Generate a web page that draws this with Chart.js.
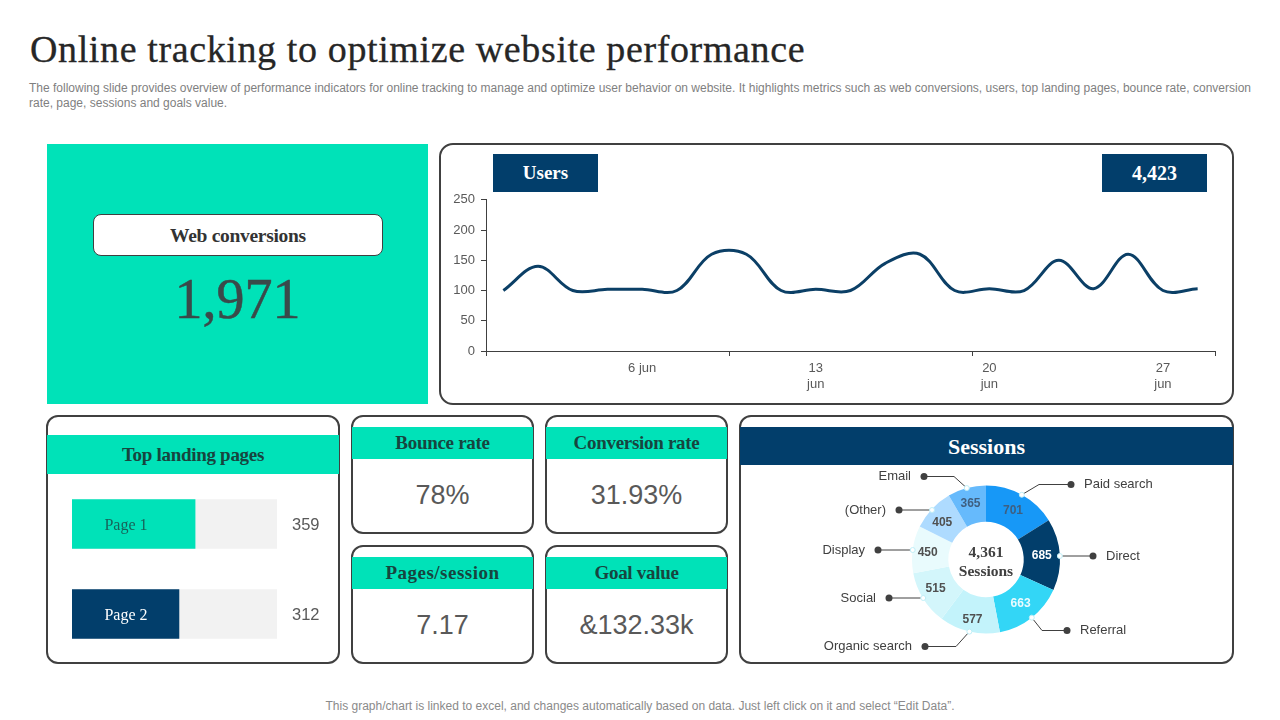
<!DOCTYPE html>
<html lang="en">
<head>
<meta charset="UTF-8">
<title>Online tracking</title>
<script src="https://cdn.jsdelivr.net/npm/chart.js"></script>
<style>
    html, body { margin: 0; padding: 0; background: white; }
    body { width: 1280px; height: 720px; position: relative; overflow: hidden; font-family: "Liberation Sans", Arial, sans-serif; }
    .abs, .box, .band, .num, canvas { position: absolute; }
    .box { border: 2px solid #404040; border-radius: 12px; box-sizing: border-box; background: white; }
    .band { background: #00e2b8; color: #17453f; font: bold 19px/32px "Liberation Serif", serif; letter-spacing: -0.3px; text-align: center; }
    .navy { background: #023e6b; color: white; font: bold 19px/38px "Liberation Serif", serif; text-align: center; }
    .num { color: #595959; font-size: 27px; text-align: center; }
</style>
</head>
<body>

<div class="abs" style="left:30px;top:28px;font:38px/42px 'Liberation Serif',serif;color:#262626;letter-spacing:0.62px;white-space:nowrap;-webkit-text-stroke:0.3px #262626">Online tracking to optimize website performance</div>
<div class="abs" style="left:29px;top:81px;width:1240px;font-size:12px;line-height:14.5px;color:#7f7f7f;white-space:nowrap">The following slide provides overview of performance indicators for online tracking to manage and optimize user behavior on website. It highlights metrics such as web conversions, users, top landing pages, bounce rate, conversion<br>rate, page, sessions and goals value.</div>

<!-- web conversions -->
<div class="abs" style="left:47px;top:144px;width:381px;height:260px;background:#00e2b8"></div>
<div class="abs" style="left:93px;top:214px;width:290px;height:42px;box-sizing:border-box;background:white;border:1px solid #404040;border-radius:8px;font:bold 19.5px/41px 'Liberation Serif',serif;color:#333;text-align:center;letter-spacing:-0.3px">Web conversions</div>
<div class="abs" style="left:47px;top:268px;width:381px;text-align:center;font:56px/62px 'Liberation Serif',serif;color:#3a4a4a;-webkit-text-stroke:0.5px #3a4a4a">1,971</div>

<!-- users -->
<div class="box" style="left:439px;top:143px;width:795px;height:262px;border-radius:14px"></div>
<div class="abs navy" style="left:493px;top:154px;width:105px;height:38px">Users</div>
<div class="abs navy" style="left:1102px;top:154px;width:105px;height:38px;font-size:20px">4,423</div>
<canvas id="usersChart" width="779" height="209" style="left:446px;top:186px"></canvas>

<!-- landing pages -->
<div class="box" style="left:46px;top:415px;width:294px;height:249px"></div>
<div class="band" style="left:47px;top:435px;width:292px;height:39px;line-height:40px">Top landing pages</div>
<canvas id="pagesChart" width="258" height="180" style="left:72px;top:479px"></canvas>

<!-- small tiles -->
<div class="box" style="left:351px;top:415px;width:183px;height:119px"></div>
<div class="band" style="left:352px;top:427px;width:181px;height:32px">Bounce rate</div>
<div class="num" style="left:352px;top:480px;width:181px">78%</div>

<div class="box" style="left:545px;top:415px;width:183px;height:119px"></div>
<div class="band" style="left:546px;top:427px;width:181px;height:32px">Conversion rate</div>
<div class="num" style="left:546px;top:480px;width:181px">31.93%</div>

<div class="box" style="left:351px;top:545px;width:183px;height:119px"></div>
<div class="band" style="left:352px;top:557px;width:181px;height:32px;letter-spacing:0.5px">Pages/session</div>
<div class="num" style="left:352px;top:610px;width:181px">7.17</div>

<div class="box" style="left:545px;top:545px;width:183px;height:119px"></div>
<div class="band" style="left:546px;top:557px;width:181px;height:32px">Goal value</div>
<div class="num" style="left:546px;top:610px;width:181px">&amp;132.33k</div>

<!-- sessions -->
<div class="box" style="left:739px;top:415px;width:495px;height:249px"></div>
<div class="abs navy" style="left:740px;top:427px;width:493px;height:38px;font-size:22px;line-height:40px">Sessions</div>
<canvas id="sessionsChart" width="490" height="187" style="left:741px;top:466px"></canvas>
<div class="abs" style="left:936px;top:542px;width:100px;text-align:center;font:bold 15.5px/19px 'Liberation Serif',serif;color:#404040">4,361<br>Sessions</div>

<div class="abs" style="left:0;top:699px;width:1280px;text-align:center;font-size:12px;line-height:15px;color:#8a8a8a">This graph/chart is linked to excel, and changes automatically based on data. Just left click on it and select “Edit Data”.</div>

<script>
    const days = ['2 jun', '3 jun', '4 jun', '5 jun', '6 jun', '9 jun', '10 jun', '11 jun', '12 jun', '13 jun', '16 jun', '17 jun', '18 jun', '19 jun', '20 jun', '23 jun', '24 jun', '25 jun', '26 jun', '27 jun', '30 jun'];
    const users = [100, 140, 100, 102, 102, 100, 160, 160, 100, 102, 100, 145, 160, 100, 103, 100, 150, 103, 160, 100, 103];
    const labelledDays = ['6 jun', '13 jun', '20 jun', '27 jun'];
    const userTicks = [0, 50, 100, 150, 200, 250];

    const pages = ['Page 1', 'Page 2'];
    const pageViews = [359, 312];
    const pageTrack = [598, 598];

    const channels = ['Paid search', 'Direct', 'Referral', 'Organic search', 'Social', 'Display', '(Other)', 'Email'];
    const sessions = [701, 685, 663, 577, 515, 450, 405, 365];

    const sliceColors = ['#1798f7', '#023e6b', '#33d6f6', '#c3f3fb', '#d3f6fb', '#e9fbfd', '#aedbff', '#66bafc'];
    const valueColors = ['#3f5f80', '#ffffff', '#eafcff', '#505050', '#505050', '#505050', '#505050', '#3f5f80'];
    // small shifts of the ring values away from the exact middle of the slice
    const valueNudge = [[0, 0], [0, 0], [0, 0], [-1, 6], [-3, 0], [-3, 1], [-3, 1], [-1, -2]];
    // leader line: elbow and dot, relative to the doughnut centre
    const leaders = [
        { elbow: [53, -75], dot: [85, -75], align: 'left' },
        { elbow: null, dot: [107, -3.5], align: 'left' },
        { elbow: [56, 71], dot: [81, 71], align: 'left' },
        { elbow: [-30, 87], dot: [-61, 87], align: 'right' },
        { elbow: null, dot: [-97, 38.5], align: 'right' },
        { elbow: null, dot: [-108, -9.5], align: 'right' },
        { elbow: null, dot: [-87, -49.5], align: 'right' },
        { elbow: [-32, -83], dot: [-62, -83], align: 'right' }
    ];

    const axisFont = { family: '"Liberation Sans", Arial, sans-serif', size: 13 };

    new Chart(document.getElementById('usersChart'), {
        type: 'line',
        data: {
            labels: days,
            datasets: [{ data: users, borderColor: '#0b3f66', borderWidth: 3, pointRadius: 0, tension: 0.36 }]
        },
        options: {
            responsive: false,
            animation: false,
            layout: { padding: { top: 2, right: 10 } },
            plugins: { legend: { display: false }, tooltip: { enabled: false } },
            scales: {
                x: {
                    offset: true,
                    afterFit: s => { s.height = 44; },
                    border: { color: '#404040' },
                    grid: {
                        offset: true,
                        drawOnChartArea: false,
                        tickLength: 5,
                        tickColor: c => (c.index === undefined || c.index % 7 === 0) ? '#404040' : 'transparent'
                    },
                    ticks: {
                        autoSkip: false,
                        maxRotation: 0,
                        padding: 5,
                        color: '#595959',
                        font: axisFont,
                        callback: function (v) {
                            const d = days[v];
                            if (!labelledDays.includes(d)) return '';
                            return d === '6 jun' ? d : d.split(' ');
                        }
                    }
                },
                y: {
                    min: 0,
                    max: 250,
                    afterFit: s => { s.width = 40; },
                    afterBuildTicks: s => { s.ticks = userTicks.map(v => ({ value: v })); },
                    border: { color: '#404040' },
                    grid: { drawOnChartArea: false, tickLength: 5, tickColor: '#404040' },
                    ticks: { padding: 6, color: '#595959', font: axisFont }
                }
            }
        }
    });

    // page name inside the bar, views next to the track
    const pageLabels = {
        id: 'pageLabels',
        afterDatasetsDraw(chart) {
            const c = chart.ctx;
            const bars = chart.getDatasetMeta(0).data;
            c.save();
            c.textBaseline = 'middle';
            bars.forEach((bar, i) => {
                c.textAlign = 'center';
                c.fillStyle = i === 0 ? '#17635a' : '#ffffff';
                c.font = '16px "Liberation Serif", serif';
                c.fillText(pages[i], bar.base + 54, bar.y + 1.5);
                c.textAlign = 'left';
                c.fillStyle = '#595959';
                c.font = '16.5px "Liberation Sans", Arial, sans-serif';
                c.fillText(pageViews[i], chart.chartArea.right + 15, bar.y + 1);
            });
            c.restore();
        }
    };

    new Chart(document.getElementById('pagesChart'), {
        type: 'bar',
        data: {
            labels: pages,
            datasets: [
                { data: pageViews, backgroundColor: ['#00e2b8', '#023e6b'], barThickness: 49 },
                { data: pageTrack, backgroundColor: '#f2f2f2', barThickness: 49 }
            ]
        },
        options: {
            indexAxis: 'y',
            responsive: false,
            animation: false,
            layout: { padding: { right: 53 } },
            datasets: { bar: { grouped: false } },
            plugins: { legend: { display: false }, tooltip: { enabled: false } },
            scales: {
                x: { display: false, min: 0, max: 598 },
                y: { display: false }
            }
        },
        plugins: [pageLabels]
    });

    // values on the ring, plus the leader lines out to the channel names
    const ringLabels = {
        id: 'ringLabels',
        afterDatasetsDraw(chart) {
            const c = chart.ctx;
            c.save();
            c.textBaseline = 'middle';
            chart.getDatasetMeta(0).data.forEach((arc, i) => {
                const mid = (arc.startAngle + arc.endAngle) / 2;
                const rMid = (arc.innerRadius + arc.outerRadius) / 2;
                c.textAlign = 'center';
                c.fillStyle = valueColors[i];
                c.font = 'bold 12px "Liberation Sans", Arial, sans-serif';
                c.fillText(sessions[i], arc.x + rMid * Math.cos(mid) + valueNudge[i][0], arc.y + rMid * Math.sin(mid) + valueNudge[i][1]);

                const l = leaders[i];
                const dx = arc.x + l.dot[0];
                const dy = arc.y + l.dot[1];
                const ax = arc.x + arc.outerRadius * Math.cos(mid);
                const ay = l.elbow ? arc.y + arc.outerRadius * Math.sin(mid) : dy;
                c.strokeStyle = '#404040';
                c.lineWidth = 1;
                c.beginPath();
                c.moveTo(ax, ay);
                if (l.elbow) c.lineTo(arc.x + l.elbow[0], arc.y + l.elbow[1]);
                c.lineTo(dx, dy);
                c.stroke();
                c.fillStyle = '#404040';
                c.beginPath();
                c.arc(dx, dy, 3.5, 0, Math.PI * 2);
                c.fill();
                c.fillStyle = '#ffffff';
                c.strokeStyle = '#bfeef7';
                c.beginPath();
                c.arc(ax, ay, 2.5, 0, Math.PI * 2);
                c.fill();
                c.stroke();

                c.textAlign = l.align;
                c.fillStyle = '#404040';
                c.font = '13px "Liberation Sans", Arial, sans-serif';
                c.fillText(channels[i], dx + (l.align === 'left' ? 13 : -13), dy);
            });
            c.restore();
        }
    };

    new Chart(document.getElementById('sessionsChart'), {
        type: 'doughnut',
        data: {
            labels: channels,
            datasets: [{ data: sessions, backgroundColor: sliceColors, borderWidth: 0 }]
        },
        options: {
            responsive: false,
            animation: false,
            cutout: '51%',
            radius: 74,
            plugins: { legend: { display: false }, tooltip: { enabled: false } }
        },
        plugins: [ringLabels]
    });
</script>
</body>
</html>
